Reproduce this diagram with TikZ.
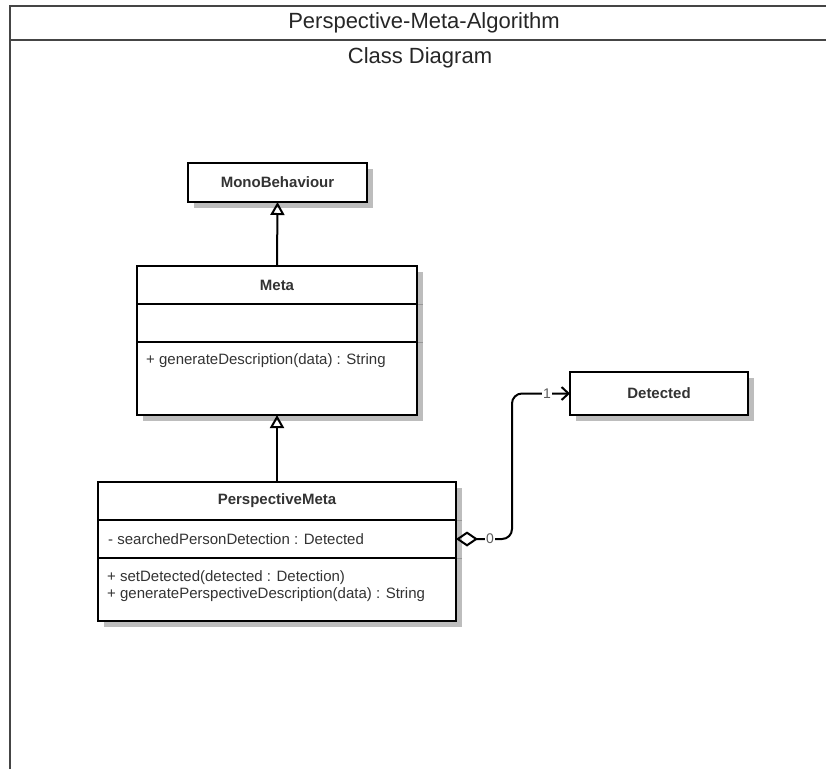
\documentclass[tikz,border=0pt]{standalone}
\usepackage{fontspec}
\setmainfont{Liberation Sans}
\usepackage{tikz}
\usetikzlibrary{positioning, arrows.meta, shadows}
\definecolor{umltext}{HTML}{333333}
\definecolor{umlshadow}{HTML}{BDBDBD}
\definecolor{framegray}{HTML}{454545}
\newcommand{\titlefont}{\fontsize{22}{26}\selectfont}
\newcommand{\clsfont}{\fontsize{15}{18}\selectfont}
\newcommand{\multfont}{\fontsize{14}{16}\selectfont}

\begin{document}
\begin{tikzpicture}[x=1pt, y=-1pt,
                clsbox/.style={draw, line width=2pt, fill=white, outer sep=0pt, inner sep=0pt,
                    drop shadow={shadow xshift=6pt, shadow yshift=-6pt, fill=umlshadow, opacity=1}},
                clsname/.style={clsbox, font=\clsfont\bfseries, text=umltext},
                member/.style={anchor=west, inner sep=0pt, font=\clsfont, text=umltext},
                mult/.style={fill=white, inner sep=1pt, font=\multfont, text=umltext!80},
                seprest/.style={draw=umlshadow!80!black, line width=0.8pt},
                inherit/.style={line width=2pt, -{Triangle[open, length=13pt, width=14pt, line width=2pt]}},
                assoc/.style={line width=2pt, rounded corners=10pt,
                    {Diamond[open, length=22pt, width=15pt, line width=2pt]}-{Straight Barb[length=7pt, width=13pt, line width=2pt]}},
                frame/.style={line width=2pt, draw=framegray},
                title/.style={font=\titlefont, text=black!85}]
                \useasboundingbox (0,0) rectangle (826,769);
                \draw[frame] (10,769) -- (10,6) -- (826,6);
                \draw[frame] (10,40) -- (826,40);
                \node[title] (ttl) at (424,23) {Perspective-Meta-Algorithm};
                \node[title] (sub) at (420,58) {Class Diagram};
                \node[clsname, minimum width=179pt, minimum height=39pt] (mono) at (277.5,182.5) {MonoBehaviour};
                \node[clsname, minimum width=280pt, minimum height=38pt] (meta) at (277,285) {Meta};
                \node[clsbox, minimum width=280pt, minimum height=38pt, below=0pt of meta] (metaattr) {};
                \node[clsbox, minimum width=280pt, minimum height=73pt, below=0pt of metaattr] (metaops) {};
                \node[member] (metaop) at ([xshift=9pt, yshift=-19pt]metaops.north west) {+ generateDescription(data) : String};
                \node[clsname, minimum width=358pt, minimum height=38pt] (pmeta) at (277,501) {PerspectiveMeta};
                \node[clsbox, minimum width=358pt, minimum height=38pt, below=0pt of pmeta] (pmetaattr) {};
                \node[clsbox, minimum width=358pt, minimum height=63pt, below=0pt of pmetaattr] (pmetaops) {};
                \node[member] (pmetaatt) at ([xshift=10pt]pmetaattr.west) {- searchedPersonDetection : Detected};
                \node[member] (pmetaopa) at ([xshift=9pt, yshift=-20pt]pmetaops.north west) {+ setDetected(detected : Detection)};
                \node[member] (pmetaopb) at ([xshift=9pt, yshift=-37pt]pmetaops.north west) {+ generatePerspectiveDescription(data) : String};
                \node[clsname, minimum width=178pt, minimum height=43pt] (detected) at (659,393.5) {Detected};
                \foreach \part in {metaattr, metaops, pmetaattr, pmetaops}
                    \draw[seprest] ([xshift=1pt]\part.north east) -- ++(5,0);
                \coordinate (bend) at (512,466);
                \draw[inherit] (meta.north) -- (mono.south);
                \draw[inherit] (pmeta.north) -- (metaops.south);
                \draw[assoc] (pmetaattr.east) -| (bend) |- (detected.west);
                \node[mult] (zero) at ([xshift=34pt]pmetaattr.east) {0};
                \node[mult] (one) at ([xshift=-23pt]detected.west) {1};
            \end{tikzpicture}
\end{document}
